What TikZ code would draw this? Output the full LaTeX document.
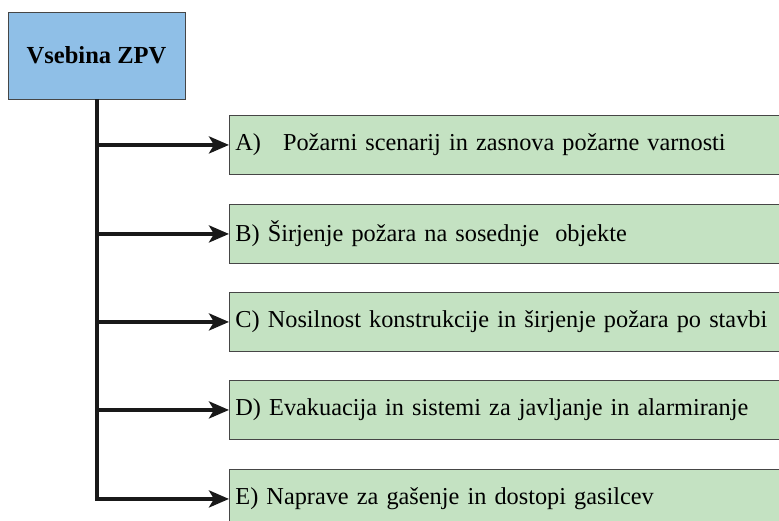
\documentclass[tikz,border=0pt]{standalone}
\usepackage{fontspec}
\setmainfont{Liberation Serif}
\usepackage{tikz}
\usetikzlibrary{positioning, arrows.meta}
\definecolor{titleblue}{RGB}{143, 191, 231}
\definecolor{itemgreen}{RGB}{196, 226, 194}
\definecolor{boxgray}{RGB}{70, 70, 70}

\begin{document}
\begin{tikzpicture}[
    x=1pt, y=-1pt,
    titlebox/.style={rectangle, draw=boxgray, line width=0.9pt, fill=titleblue, minimum width=177pt, minimum height=87pt, font=\fontsize{24.5}{28}\selectfont\bfseries},
    itembox/.style={rectangle, draw=boxgray, line width=0.9pt, fill=itemgreen, anchor=north west, minimum height=59pt, text width=600pt, align=left, inner xsep=6pt, font=\fontsize{24.3}{28}\selectfont},
    arrow/.style={-{Stealth[length=20pt, width=17pt, inset=5pt]}, line width=4pt, black!90}
]
    \useasboundingbox (0,0) rectangle (779,521);
    \clip (0,0) rectangle (779,521);

    % Title
    \node[titlebox] (title) at (96.5,55.5) {Vsebina ZPV};

    % Contents
    \node[itembox] (secA) at (229,115) {A)\hspace{22pt}Požarni scenarij in zasnova požarne varnosti};
    \node[itembox] (secB) at (229,204) {B) Širjenje požara na sosednje\ \ objekte};
    \node[itembox] (secC) at (229,292) {C) Nosilnost konstrukcije in širjenje požara po stavbi};
    \node[itembox] (secD) at (229,380) {D) Evakuacija in sistemi za javljanje in alarmiranje};
    \node[itembox] (secE) at (229,469) {E) Naprave za gašenje in dostopi gasilcev};

    % Connectors
    \draw[arrow, line cap=butt] (title.south) -- (title.south |- secE.west) -- (secE.west);
    \draw[arrow] (title.south |- secA.west) -- (secA.west);
    \draw[arrow] (title.south |- secB.west) -- (secB.west);
    \draw[arrow] (title.south |- secC.west) -- (secC.west);
    \draw[arrow] (title.south |- secD.west) -- (secD.west);
\end{tikzpicture}
\end{document}
